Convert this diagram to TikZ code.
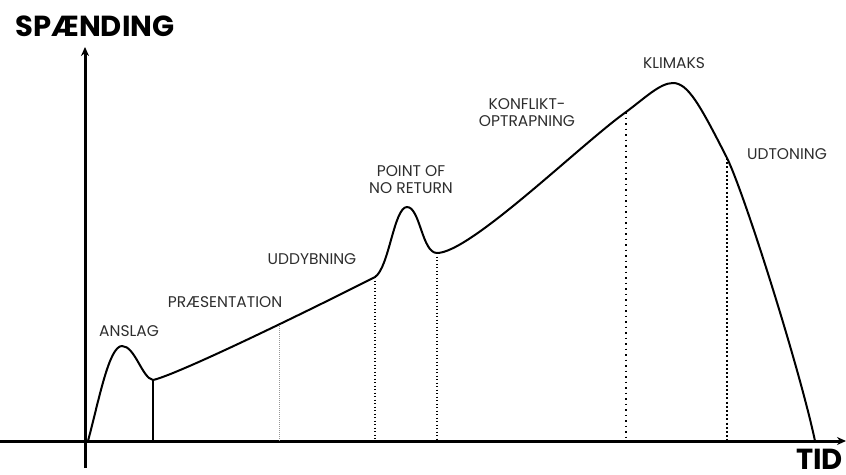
\documentclass[tikz,border=0pt]{standalone}
\usepackage{fontspec}
\setmainfont{Poppins}
\usepackage{xcolor}
\usetikzlibrary{arrows.meta}
\usetikzlibrary{positioning}

\definecolor{lblgray}{RGB}{45,45,45}

\tikzset{
  axis/.style={line width=3pt, -{Stealth[length=9pt,width=8pt]}},
  curve/.style={line width=2pt, line cap=round, line join=round},
  lbl/.style={text=lblgray, font=\fontsize{15.5}{17}\selectfont, inner sep=0pt, align=center},
  title/.style={font=\bfseries\fontsize{29}{30}\selectfont, inner sep=0pt},
  markline/.style={line width=1.5pt, dash pattern=on 1.2pt off 2.3pt},
}

\begin{document}
\begin{tikzpicture}[x=1pt,y=1pt,yscale=-1,xscale=1]
  \useasboundingbox (0,0) rectangle (846,474); %same frame as the picture
  % Axes
  \coordinate (ybot) at (85,468);
  \coordinate (ytop) at (85,47);
  \coordinate (xleft) at (0,441);
  \coordinate (xright) at (846,441);
  \draw [axis] (ybot) -- (ytop);
  \draw [axis] (xleft) -- (xright);

  % points on the curve
  \coordinate (o) at (88,441);
  \coordinate (dipA) at (153,380);
  \coordinate (pres) at (279,326);
  \coordinate (udd) at (375,277);
  \coordinate (dipB) at (437,253);
  \coordinate (konf) at (626,112);
  \coordinate (udt) at (727,158);
  \coordinate (tend) at (815,441);

  % Curve
  \draw [curve] (o) .. controls (99,400) and (109,346) .. (122,346)
    .. controls (135,346) and (142,378) .. (dipA)
    .. controls (180,374) and (330,300) .. (udd)
    .. controls (389,268) and (394,207) .. (407,207)
    .. controls (420,207) and (422,253) .. (dipB)
    .. controls (470,253) and (580,145) .. (konf)
    .. controls (645,98) and (660,83) .. (673,83)
    .. controls (688,83) and (700,105) .. (udt)
    .. controls (745,195) and (800,370) .. (tend);

  % Vertical marks
  \draw [line width=2pt] (dipA) -- (dipA |- xleft);
  \draw [lblgray!50, line width=1pt, dash pattern=on 1pt off 1pt] (pres) -- (pres |- xleft);
  \draw [markline] (udd) -- (udd |- xleft);
  \draw [markline] (dipB) -- (dipB |- xleft);
  \draw [line width=2pt, dash pattern=on 1.5pt off 4pt] (konf) -- (konf |- xleft);
  \draw [line width=2.5pt, dash pattern=on 2pt off 2.2pt] (udt) -- (udt |- xleft);

  % Text Node
  \node (spaend) [title] at (95,26) {SPÆNDING};
  % Text Node
  \node (tid) [title, anchor=south east] at (843,470) {TID};
  % Text Node
  \node (anslag) [lbl] at (129,331) {ANSLAG};
  % Text Node
  \node (praes) [lbl] at (225,302) {PRÆSENTATION};
  % Text Node
  \node (uddyb) [lbl] at (312,259) {UDDYBNING};
  % Text Node
  \node (point) [lbl] at (411,180) {POINT OF\\NO RETURN};
  % Text Node
  \node (konflikt) [lbl] at (527,113) {KONFLIKT-\\OPTRAPNING};
  % Text Node
  \node (klimaks) [lbl] at (674,63) {KLIMAKS};
  % Text Node
  \node (udtoning) [lbl] at (787,154) {UDTONING};
\end{tikzpicture}
\end{document}
